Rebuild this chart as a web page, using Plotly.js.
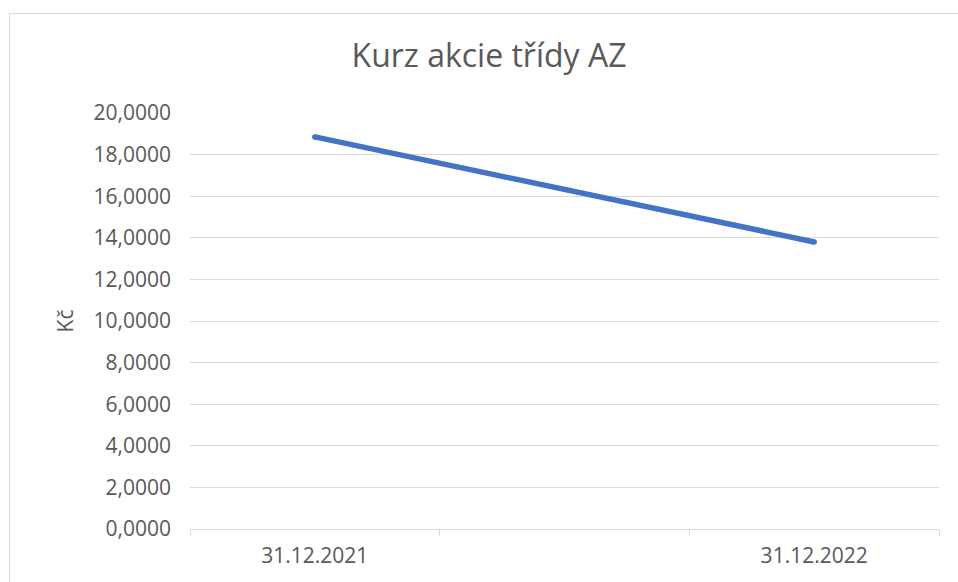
<!DOCTYPE html>
<html>
<head>
<meta charset="utf-8">
<script src="https://cdn.plot.ly/plotly-3.0.1.min.js"></script>
<style>
html,body{margin:0;padding:0;background:#fff;overflow:hidden;}
#chart{width:958px;height:582px;position:absolute;left:0;top:0;}
#frame{position:absolute;left:9px;top:13px;width:980px;height:600px;border:1px solid #d9d9d9;pointer-events:none;}
</style>
</head>
<body>
<div id="chart"></div>
<div id="frame"></div>
<script>
const categories = ['31.12.2021', ' ', '31.12.2022'];
const dates = ['31.12.2021', '31.12.2022'];
const prices = [18.85, 13.80];
const chartTitle = 'Kurz akcie třídy AZ';
const yTitle = 'Kč';

const FONT = 'Open Sans, sans-serif';
const TXT = '#595959';

const trace = {
  type: 'scatter',
  mode: 'lines+markers',
  x: dates,
  y: prices,
  line: {color: '#4472C4', width: 5.5},
  marker: {color: '#4472C4', size: 5.5},
  hoverinfo: 'skip'
};

const layout = {
  width: 958,
  height: 582,
  margin: {l: 190, r: 19, t: 113, b: 53},
  paper_bgcolor: 'rgba(0,0,0,0)',
  plot_bgcolor: '#fff',
  separators: ', ',
  showlegend: false,
  font: {family: FONT, color: TXT, size: 21},
  title: {
    text: chartTitle,
    font: {family: FONT, size: 32, color: TXT},
    xref: 'container', x: 489/958, xanchor: 'center',
    yref: 'container', y: 1 - 56/582, yanchor: 'middle'
  },
  xaxis: {
    type: 'category',
    categoryorder: 'array',
    categoryarray: categories,
    range: [-0.5, 2.5],
    tickson: 'boundaries',
    ticks: 'outside',
    ticklen: 6,
    tickcolor: '#d9d9d9',
    tickwidth: 1,
    showgrid: false,
    showline: true,
    linecolor: '#d9d9d9',
    linewidth: 1,
    zeroline: false,
    ticklabelstandoff: 8,
    tickfont: {family: FONT, size: 21, color: TXT},
    fixedrange: true
  },
  yaxis: {
    range: [0, 20],
    dtick: 2,
    tick0: 0,
    tickformat: '.4f',
    showgrid: true,
    gridcolor: '#d9d9d9',
    gridwidth: 1,
    zeroline: false,
    showline: false,
    ticks: '',
    ticklabelstandoff: 18,
    tickfont: {family: FONT, size: 21, color: TXT},
    title: {text: yTitle, font: {family: FONT, size: 21, color: TXT}, standoff: 14},
    automargin: false,
    fixedrange: true
  }
};

Plotly.newPlot('chart', [trace], layout, {displayModeBar: false, staticPlot: true});
</script>
</body>
</html>
